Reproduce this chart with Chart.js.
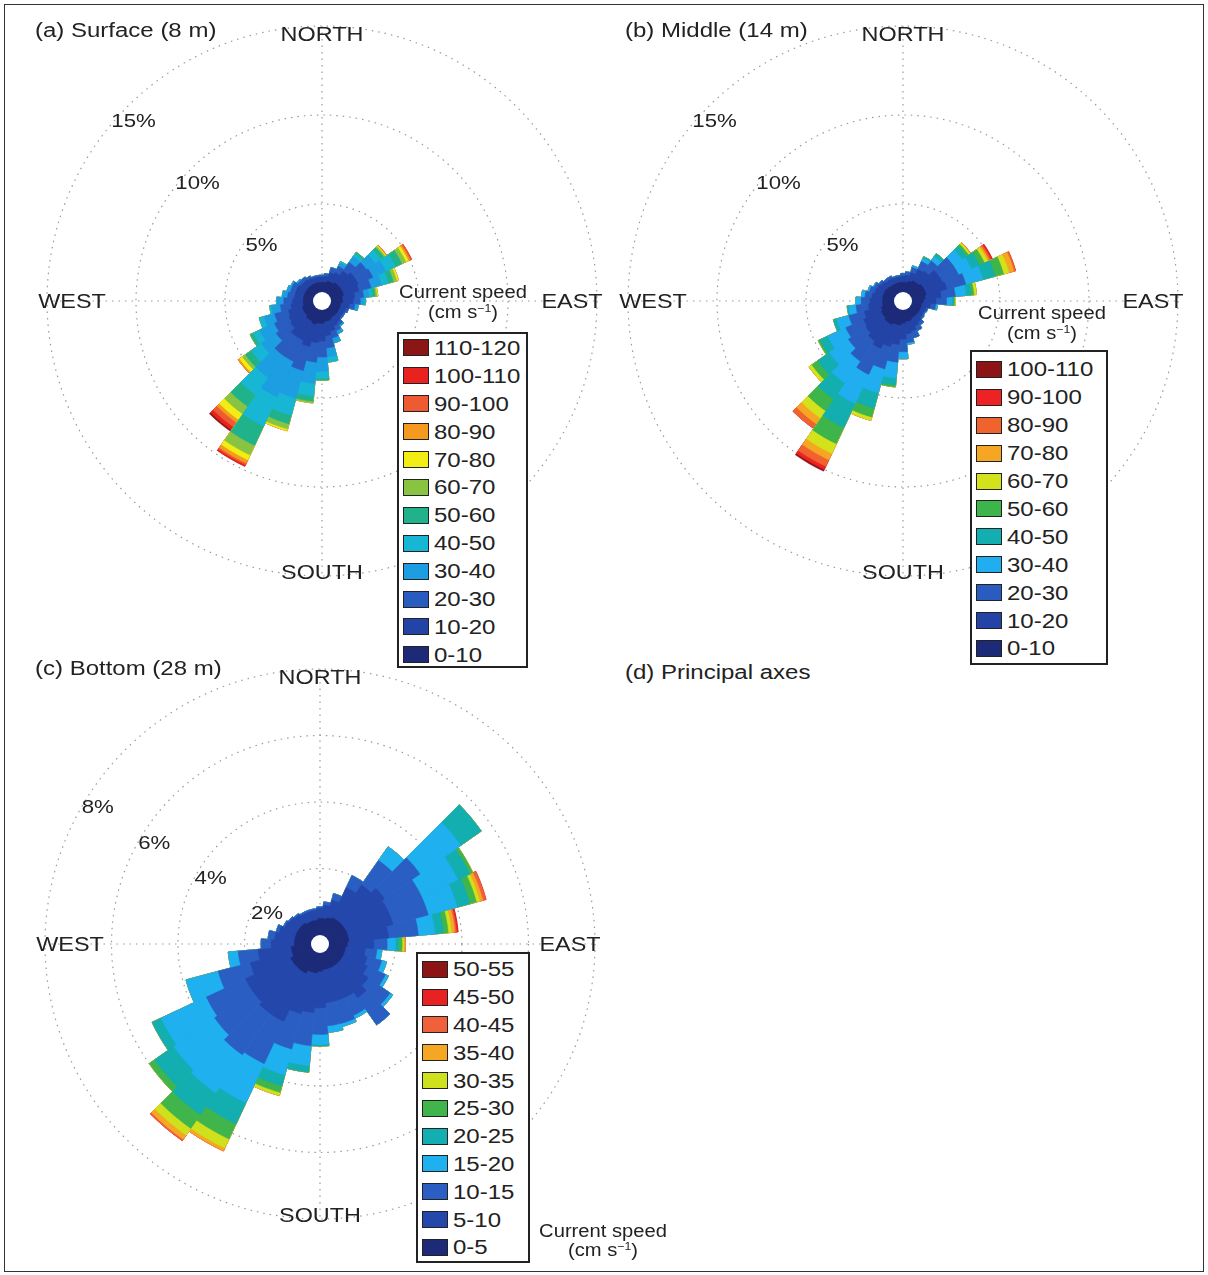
<!DOCTYPE html>
<html>
<head>
<meta charset="utf-8">
<script src="https://cdn.jsdelivr.net/npm/chart.js@4.4.1/dist/chart.umd.min.js"></script>
<style>
  html, body { margin: 0; padding: 0; background: #fff; }
  body { width: 1208px; height: 1275px; position: relative; overflow: hidden;
         font-family: "Liberation Sans", Arial, sans-serif; color: #222; }
  #frame { position: absolute; left: 4px; top: 4px; width: 1200px; height: 1268px;
           border: 1.5px solid #333; box-sizing: border-box; }
  canvas { position: absolute; }
  .txt { position: absolute; font-size: 20px; line-height: 20px; white-space: nowrap;
         transform: scaleX(1.2); transform-origin: 0 50%; }
  .unit { position: absolute; width: 200px; text-align: center; font-size: 18px; line-height: 20px;
          white-space: nowrap; transform: scaleX(1.12); }
  .unit sup { font-size: 11px; vertical-align: 6px; line-height: 0; }
  .legend { position: absolute; border: 2px solid #222; box-sizing: border-box; background: #fff; }
  .row { position: absolute; left: 0; display: flex; align-items: center; }
  .sw { width: 26px; height: 17px; border: 1.5px solid #222; box-sizing: border-box; margin: 0 5px 0 4px; }
  .lab { font-size: 20px; line-height: 20px; white-space: nowrap; transform: scaleX(1.2); transform-origin: 0 50%; }
</style>
</head>
<body>
<div id="frame"></div>

<canvas id="roseA" width="600" height="600" style="left:22px;top:1px"></canvas>
<canvas id="roseB" width="600" height="600" style="left:603px;top:1px"></canvas>
<canvas id="roseC" width="600" height="600" style="left:20px;top:644px"></canvas>

<div class="txt" style="left:35px;top:20px">(a) Surface (8 m)</div>
<div class="txt" style="left:625px;top:20px">(b) Middle (14 m)</div>
<div class="txt" style="left:35px;top:658px">(c) Bottom (28 m)</div>
<div class="txt" style="left:625px;top:662px">(d) Principal axes</div>

<div class="unit" style="left:363px;top:282px">Current speed</div>
<div class="unit" style="left:363px;top:302px">(cm s<sup>−1</sup>)</div>
<div class="unit" style="left:942px;top:303px">Current speed</div>
<div class="unit" style="left:942px;top:323px">(cm s<sup>−1</sup>)</div>
<div class="unit" style="left:503px;top:1221px">Current speed</div>
<div class="unit" style="left:503px;top:1240px">(cm s<sup>−1</sup>)</div>

<div class="legend" id="legA" style="left:397px;top:332px;width:131px;height:336px"></div>
<div class="legend" id="legB" style="left:970px;top:350px;width:138px;height:315px"></div>
<div class="legend" id="legC" style="left:416px;top:952px;width:114px;height:311px"></div>

<script>
// direction bins (degrees, bin centre), 10 deg wide
const directions = [0, 10, 20, 30, 40, 50, 60, 70, 80, 90, 100, 110, 120, 130, 140, 150, 160, 170,
                    180, 190, 200, 210, 220, 230, 240, 250, 260, 270, 280, 290, 300, 310, 320, 330, 340, 350];

// (a) surface, speed classes in cm/s
const surfaceBins = ['0-10', '10-20', '20-30', '30-40', '40-50', '50-60', '60-70', '70-80', '80-90', '90-100', '100-110', '110-120'];
const surfaceColors = ['#1c2a78', '#2344a6', '#2a5cbf', '#1d9de2', '#17b6d4', '#20b38b', '#88c442', '#f2ee14', '#f39a1f', '#ee5a32', '#e8221e', '#8c1616'];
const surfaceRings = [5, 10, 15];
// one row per direction, % of records in each speed class
const surfacePct = [
  [0.6, 0.3, 0.1],
  [0.6, 0.35, 0.15],
  [0.7, 0.5, 0.3],
  [0.7, 0.6, 0.4, 0.2, 0.1],
  [0.8, 0.8, 0.6, 0.4, 0.2, 0.1],
  [0.8, 1.0, 0.8, 0.6, 0.4, 0.2, 0.1, 0.05, 0.05],
  [0.8, 1.0, 0.9, 0.8, 0.6, 0.4, 0.25, 0.15, 0.1, 0.1],
  [0.8, 0.9, 0.7, 0.6, 0.4, 0.3, 0.2, 0.1],
  [0.7, 0.7, 0.5, 0.3, 0.2, 0.15, 0.1, 0.05],
  [0.7, 0.6, 0.4, 0.2, 0.1],
  [0.6, 0.5, 0.3, 0.2],
  [0.6, 0.35, 0.15],
  [0.6, 0.3, 0.1],
  [0.6, 0.3, 0.1],
  [0.6, 0.4, 0.2, 0.1],
  [0.6, 0.5, 0.3, 0.2],
  [0.7, 0.6, 0.4, 0.3],
  [0.7, 0.8, 0.7, 0.5, 0.3],
  [0.8, 1.0, 0.9, 0.8, 0.4, 0.1],
  [0.8, 1.1, 1.1, 1.2, 0.7, 0.3, 0.1],
  [0.9, 1.3, 1.4, 1.6, 1.0, 0.5, 0.3, 0.1],
  [0.8, 1.2, 1.3, 2.2, 1.8, 1.2, 0.6, 0.3, 0.2, 0.1, 0.1],
  [0.8, 1.2, 1.3, 1.5, 1.2, 0.8, 0.5, 0.4, 0.2, 0.3, 0.2, 0.1],
  [0.7, 1.0, 1.0, 1.0, 0.7, 0.4, 0.2, 0.2, 0.1],
  [0.7, 0.9, 0.9, 0.9, 0.4, 0.2],
  [0.7, 0.8, 0.8, 0.6, 0.3],
  [0.6, 0.7, 0.6, 0.5, 0.1],
  [0.6, 0.6, 0.5, 0.4],
  [0.6, 0.5, 0.4, 0.3],
  [0.6, 0.5, 0.3, 0.2],
  [0.6, 0.5, 0.3, 0.1],
  [0.6, 0.4, 0.2, 0.1],
  [0.6, 0.4, 0.2],
  [0.6, 0.35, 0.15],
  [0.6, 0.3, 0.1],
  [0.6, 0.3, 0.1]
];

// (b) middle
const middleBins = ['0-10', '10-20', '20-30', '30-40', '40-50', '50-60', '60-70', '70-80', '80-90', '90-100', '100-110'];
const middleColors = ['#1c2a78', '#2344a6', '#2a5cbf', '#20aef0', '#12aeb0', '#3db54a', '#d4e21c', '#f5a623', '#f0622e', '#ec2224', '#8c1414'];
const middleRings = [5, 10, 15];
const middlePct = [
  [0.6, 0.35, 0.15],
  [0.6, 0.4, 0.2],
  [0.7, 0.5, 0.3, 0.1],
  [0.8, 0.7, 0.5, 0.2, 0.1],
  [0.8, 0.8, 0.7, 0.3, 0.2],
  [0.9, 1.1, 1.0, 0.6, 0.3, 0.15, 0.1, 0.05],
  [0.9, 1.1, 1.0, 0.8, 0.5, 0.3, 0.2, 0.1, 0.1, 0.1],
  [0.9, 1.2, 1.1, 1.0, 0.7, 0.5, 0.3, 0.3, 0.1],
  [0.8, 0.9, 0.8, 0.6, 0.3, 0.15, 0.15],
  [0.7, 0.7, 0.6, 0.3, 0.1, 0.05, 0.05],
  [0.6, 0.5, 0.3, 0.1],
  [0.6, 0.3, 0.1],
  [0.6, 0.25, 0.1],
  [0.6, 0.3, 0.1],
  [0.6, 0.4, 0.2],
  [0.6, 0.5, 0.3],
  [0.7, 0.6, 0.4],
  [0.7, 0.7, 0.5, 0.1],
  [0.8, 0.9, 0.7, 0.4],
  [0.9, 1.1, 1.0, 0.9, 0.4, 0.1],
  [0.9, 1.3, 1.3, 1.4, 0.9, 0.5, 0.2],
  [1.0, 1.5, 1.6, 1.8, 1.5, 1.0, 0.6, 0.4, 0.4, 0.2, 0.1],
  [1.0, 1.3, 1.4, 1.5, 1.1, 0.8, 0.5, 0.4, 0.3],
  [0.9, 1.2, 1.2, 1.3, 0.8, 0.4, 0.2],
  [0.9, 1.1, 1.1, 1.1, 0.5, 0.1],
  [0.8, 1.0, 0.9, 0.7, 0.2],
  [0.7, 0.8, 0.7, 0.4, 0.1],
  [0.7, 0.7, 0.5, 0.3],
  [0.7, 0.6, 0.4, 0.2],
  [0.7, 0.5, 0.3, 0.1],
  [0.7, 0.45, 0.2, 0.05],
  [0.65, 0.4, 0.15],
  [0.6, 0.35, 0.15],
  [0.6, 0.35, 0.15],
  [0.6, 0.3, 0.1],
  [0.6, 0.3, 0.1]
];

// (c) bottom
const bottomBins = ['0-5', '5-10', '10-15', '15-20', '20-25', '25-30', '30-35', '35-40', '40-45', '45-50', '50-55'];
const bottomColors = ['#1c2a78', '#2447ac', '#2a5ec2', '#1fb0f0', '#13aeb0', '#3fb54c', '#cfe01c', '#f5a623', '#f0603a', '#e82222', '#8c1414'];
const bottomRings = [2, 4, 6, 8];
const bottomPct = [
  [0.5, 0.3, 0.05],
  [0.5, 0.4, 0.1],
  [0.55, 0.55, 0.2],
  [0.6, 1.0, 0.4],
  [0.6, 1.3, 0.9, 0.5],
  [0.6, 1.5, 1.3, 1.5, 0.75],
  [0.6, 1.4, 1.1, 1.2, 0.4, 0.1],
  [0.6, 1.4, 1.1, 0.9, 0.4, 0.2, 0.1, 0.1, 0.1],
  [0.6, 1.2, 0.9, 0.5, 0.25, 0.15, 0.1, 0.1, 0.05, 0.05],
  [0.55, 0.8, 0.4, 0.25, 0.1, 0.1, 0.05, 0.05],
  [0.5, 0.6, 0.35, 0.15],
  [0.5, 0.7, 0.45, 0.15],
  [0.5, 0.8, 0.6, 0.1],
  [0.5, 1.0, 0.8, 0.1],
  [0.5, 1.2, 1.0],
  [0.5, 1.0, 0.6, 0.1],
  [0.5, 1.0, 0.7, 0.1],
  [0.5, 1.0, 0.7, 0.2],
  [0.55, 1.1, 0.8, 0.3, 0.05],
  [0.6, 1.2, 1.0, 0.6, 0.2],
  [0.6, 1.3, 1.1, 0.8, 0.35, 0.2, 0.1],
  [0.7, 1.6, 1.4, 1.3, 0.7, 0.5, 0.3, 0.1],
  [0.7, 1.6, 1.5, 1.4, 0.8, 0.5, 0.25, 0.15, 0.05],
  [0.7, 1.5, 1.4, 1.5, 0.7, 0.2],
  [0.7, 1.5, 1.3, 1.5, 0.3],
  [0.6, 1.3, 1.0, 1.0],
  [0.6, 1.0, 0.6, 0.3],
  [0.5, 0.7, 0.3],
  [0.5, 0.6, 0.2],
  [0.5, 0.5, 0.1],
  [0.5, 0.4, 0.05],
  [0.5, 0.35, 0.05],
  [0.5, 0.3, 0.05],
  [0.45, 0.3, 0.05],
  [0.45, 0.3, 0.05],
  [0.45, 0.3, 0.05]
];

const compass = ['NORTH', 'EAST', 'SOUTH', 'WEST'];

// stacked rose: each class drawn as cumulative arc, first class on top
function roseDatasets(pct, colors) {
  return colors.map((c, k) => ({
    label: k,
    data: pct.map(row => row.slice(0, k + 1).reduce((a, b) => a + b, 0)),
    backgroundColor: c,
    borderColor: c,
    borderWidth: 0.5
  }));
}

const roseDecor = {
  id: 'roseDecor',
  beforeDatasetsDraw(chart) {
    const s = chart.scales.r, ctx = chart.ctx;
    const R = s.drawingArea, x = s.xCenter, y = s.yCenter;
    ctx.save();
    ctx.strokeStyle = '#9a9a9a';
    ctx.lineWidth = 1.2;
    ctx.setLineDash([1.5, 5]);
    ctx.beginPath();
    ctx.moveTo(x - R, y); ctx.lineTo(x + R, y);
    ctx.moveTo(x, y - R); ctx.lineTo(x, y + R);
    ctx.stroke();
    ctx.restore();
  },
  afterDatasetsDraw(chart, args, opts) {
    const s = chart.scales.r, ctx = chart.ctx;
    const R = s.drawingArea, x = s.xCenter, y = s.yCenter;
    ctx.save();
    // hole in the middle
    ctx.fillStyle = '#fff';
    ctx.beginPath();
    ctx.arc(x, y, opts.hole, 0, Math.PI * 2);
    ctx.fill();

    ctx.fillStyle = '#222';
    ctx.textAlign = 'center';
    ctx.textBaseline = 'middle';
    const put = (t, px, py, size) => {
      ctx.save();
      ctx.translate(px, py);
      ctx.scale(1.17, 1);
      ctx.font = size + 'px "Liberation Sans", Arial, sans-serif';
      ctx.fillText(t, 0, 0);
      ctx.restore();
    };
    put(compass[0], x, y - R + 9, 20);
    put(compass[1], x + R - 25, y + 1, 20);
    put(compass[2], x, y + R - 3, 20);
    put(compass[3], x - R + 25, y + 1, 20);

    const a = opts.labelAngle * Math.PI / 180;
    opts.rings.forEach(v => {
      const d = s.getDistanceFromCenterForValue(v) - 13;
      put(v + '%', x - Math.cos(a) * d, y - Math.sin(a) * d + 3, 19);
    });
    ctx.restore();
  }
};

function makeRose(id, pct, colors, rings, min, labelAngle) {
  return new Chart(document.getElementById(id), {
    type: 'polarArea',
    data: { labels: directions, datasets: roseDatasets(pct, colors) },
    options: {
      animation: false,
      responsive: false,
      layout: { padding: 25 },
      plugins: {
        legend: { display: false },
        tooltip: { enabled: false },
        roseDecor: { rings: rings, labelAngle: labelAngle, hole: 9 }
      },
      scales: {
        r: {
          min: min,
          max: rings[rings.length - 1],
          startAngle: -5,
          ticks: { display: false },
          afterBuildTicks: (scale) => { scale.ticks = rings.map(v => ({ value: v })); },
          grid: { circular: true, color: '#9a9a9a', lineWidth: 1.2 },
          border: { dash: [1.5, 5] },
          angleLines: { display: false },
          pointLabels: { display: false }
        }
      }
    },
    plugins: [roseDecor]
  });
}

function makeLegend(id, bins, colors, pad, rowH) {
  const box = document.getElementById(id);
  for (let i = bins.length - 1, r = 0; i >= 0; i--, r++) {
    const row = document.createElement('div');
    row.className = 'row';
    row.style.top = (pad + r * rowH) + 'px';
    row.style.height = rowH + 'px';
    row.innerHTML = '<div class="sw" style="background:' + colors[i] + '"></div><span class="lab">' + bins[i] + '</span>';
    box.appendChild(row);
  }
}

makeRose('roseA', surfacePct, surfaceColors, surfaceRings, -0.45, 44);
makeRose('roseB', middlePct, middleColors, middleRings, -0.45, 44);
makeRose('roseC', bottomPct, bottomColors, bottomRings, -0.27, 32);

makeLegend('legA', surfaceBins, surfaceColors, 0, 27.9);
makeLegend('legB', middleBins, middleColors, 3.5, 27.9);
makeLegend('legC', bottomBins, bottomColors, 1.5, 27.8);
</script>
</body>
</html>
